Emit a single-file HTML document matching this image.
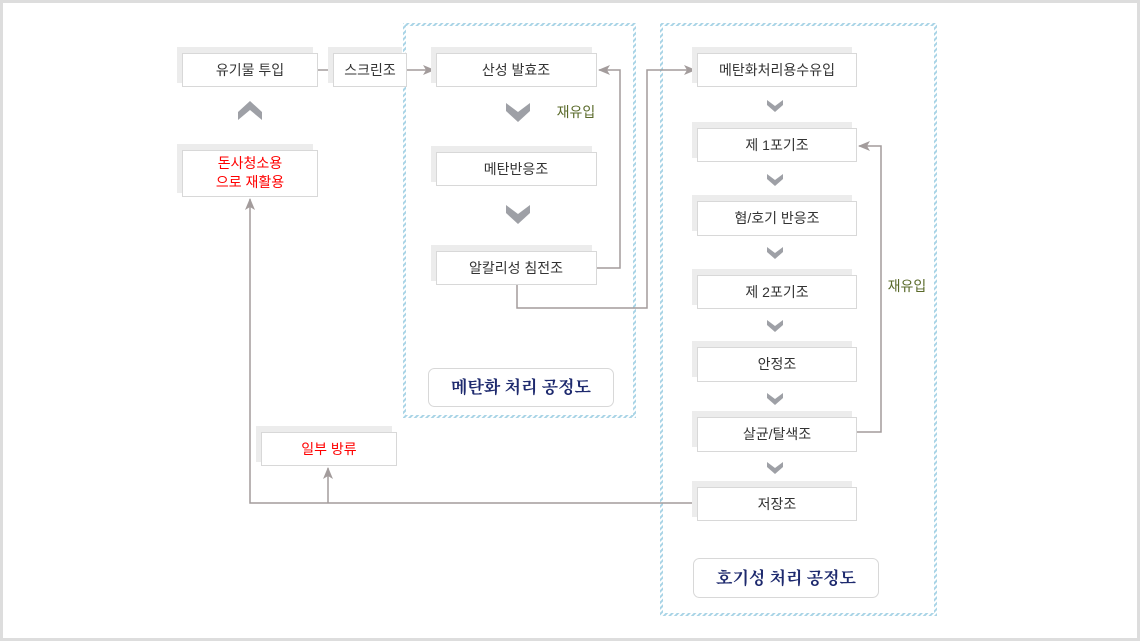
<!DOCTYPE html>
<html><head><meta charset="utf-8"><style>
html,body{margin:0;padding:0;background:#fff}
svg{display:block}
text{font-family:"Liberation Sans","Noto Sans CJK KR",sans-serif;font-size:14px;fill:#333;text-anchor:middle}
.r{fill:#ff0000}.g{fill:#5a6a2a}
.t{font-family:"Liberation Serif","Noto Serif CJK SC",serif;font-size:17px;font-weight:bold;fill:#1e2a6e}
</style></head><body>
<svg width="1140" height="641" viewBox="0 0 1140 641" xmlns="http://www.w3.org/2000/svg">
<defs>
<pattern id="dash" width="4" height="4" patternUnits="userSpaceOnUse" patternTransform="rotate(45)">
<rect width="2" height="4" fill="#a9d4e6"/></pattern>
<marker id="ah" markerWidth="12" markerHeight="10" refX="11" refY="5" orient="auto" markerUnits="userSpaceOnUse">
<path d="M0,0 L12,5 L0,10 L3,5 Z" fill="#a39c9c"/></marker>
</defs>
<rect x="1.5" y="1.5" width="1137" height="638" fill="none" stroke="#ddd" stroke-width="3"/>
<!-- dashed groups -->
<rect x="404.5" y="24.5" width="230" height="392" fill="none" stroke="url(#dash)" stroke-width="3"/>
<rect x="661.5" y="24.5" width="274" height="590" fill="none" stroke="url(#dash)" stroke-width="3"/>
<!-- lines -->
<g stroke="#a39c9c" stroke-width="1.5" fill="none">
<line x1="318" y1="70" x2="333" y2="70"/>
<line x1="407" y1="70" x2="434" y2="70" marker-end="url(#ah)"/>
<polyline points="597,268 620,268 620,70 599,70" marker-end="url(#ah)"/>
<polyline points="517,285 517,308 647,308 647,70 695,70" marker-end="url(#ah)"/>
<polyline points="857,432 881,432 881,146 859,146" marker-end="url(#ah)"/>
<polyline points="697,503 250,503 250,199" marker-end="url(#ah)"/>
<line x1="328" y1="503" x2="328" y2="468" marker-end="url(#ah)"/>
</g>
<!-- boxes -->
<g>
<g fill="#ececec">
<rect x="177" y="47" width="136" height="36"/><rect x="328" y="47" width="74" height="36"/>
<rect x="431" y="47" width="161" height="36"/><rect x="431" y="146" width="161" height="36"/>
<rect x="431" y="245" width="161" height="36"/><rect x="177" y="144" width="136" height="49"/>
<rect x="256" y="426" width="136" height="36"/>
<rect x="692" y="47" width="160" height="36"/><rect x="692" y="122" width="160" height="36"/>
<rect x="692" y="195" width="160" height="36"/><rect x="692" y="269" width="160" height="36"/>
<rect x="692" y="341" width="160" height="36"/><rect x="692" y="411" width="160" height="36"/>
<rect x="692" y="481" width="160" height="36"/>
</g>
<g fill="#fff" stroke="#d8d8d8" stroke-width="1">
<rect x="182.5" y="53.5" width="135" height="33"/><rect x="333.5" y="53.5" width="73" height="33"/>
<rect x="436.5" y="53.5" width="160" height="33"/><rect x="436.5" y="152.5" width="160" height="33"/>
<rect x="436.5" y="251.5" width="160" height="33"/><rect x="182.5" y="150.5" width="135" height="46"/>
<rect x="261.5" y="432.5" width="135" height="33"/>
<rect x="697.5" y="53.5" width="159" height="33"/><rect x="697.5" y="128.5" width="159" height="33"/>
<rect x="697.5" y="201.5" width="159" height="34"/><rect x="697.5" y="275.5" width="159" height="33"/>
<rect x="697.5" y="347.5" width="159" height="34"/><rect x="697.5" y="417.5" width="159" height="34"/>
<rect x="697.5" y="487.5" width="159" height="33"/>
<rect x="428.5" y="368.5" width="185" height="38" rx="6"/>
<rect x="693.5" y="558.5" width="185" height="39" rx="6"/>
</g>
</g>
<!-- chevrons -->
<g fill="#9ea0a6">
<polygon points="506,103 518,112 530,103 530,111 518,122 506,111"/>
<polygon points="506,205 518,214 530,205 530,213 518,224 506,213"/>
<polygon points="238,112 250,101 262,112 262,120 250,110 238,120"/>
<g id="sc"><polygon points="767,100 775,106 783,100 783,105 775,112 767,105"/></g>
<use href="#sc" y="74"/><use href="#sc" y="147"/><use href="#sc" y="220"/>
<use href="#sc" y="293"/><use href="#sc" y="362"/>
</g>
<!-- text -->
<text x="250" y="75">유기물 투입</text>
<text x="370" y="75">스크린조</text>
<text x="516" y="75">산성 발효조</text>
<text x="516" y="174">메탄반응조</text>
<text x="516" y="273">알칼리성 침전조</text>
<text x="576" y="117" class="g">재유입</text>
<text x="250" y="168" class="r">돈사청소용</text>
<text x="250" y="187" class="r">으로 재활용</text>
<text x="329" y="454" class="r">일부 방류</text>
<text x="777" y="75">메탄화처리용수유입</text>
<text x="777" y="150">제 1포기조</text>
<text x="777" y="223">혐/호기 반응조</text>
<text x="777" y="297">제 2포기조</text>
<text x="777" y="369">안정조</text>
<text x="777" y="439">살균/탈색조</text>
<text x="777" y="509">저장조</text>
<text x="907" y="291" class="g">재유입</text>
<text x="521" y="393" class="t">메탄화 처리 공정도</text>
<text x="786" y="584" class="t">호기성 처리 공정도</text>
</svg>
</body></html>
